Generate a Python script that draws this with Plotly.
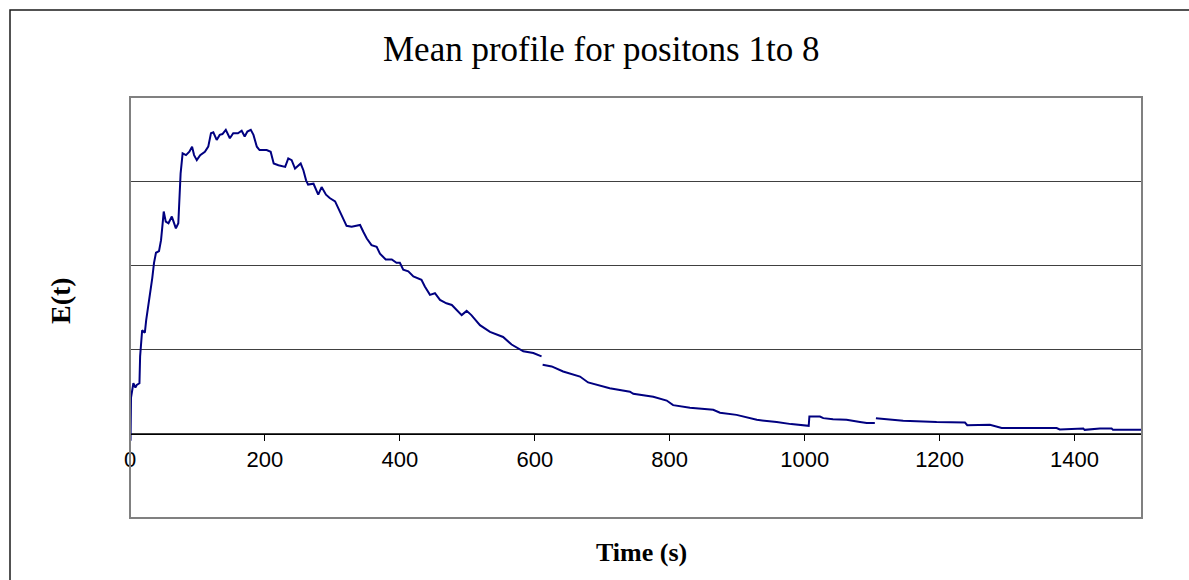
import plotly.graph_objects as go

# ---- data ----
time_s = [0, 0.8, 1.5, 5, 8, 10, 14, 15, 18, 22, 24, 27, 30, 33, 35.6, 38.5, 43, 46, 48.4, 50, 53,
          57, 62, 65, 68, 71.6, 73, 75, 78, 83, 88, 92, 95, 99, 104, 111, 116, 120, 123.5, 128.5,
          133, 137, 142, 148, 153, 160, 165.5, 170, 174, 179, 183, 188, 192, 197, 202.6, 208.5,
          213, 220, 230, 234.6, 239.6, 244.6, 249.5, 253, 257, 261, 264, 272, 279, 284, 290.5,
          296, 304, 309, 315, 321, 328.5, 335, 341, 345.8, 351, 358, 365.6, 370.5, 379, 388, 395,
          400, 405, 412.5, 420, 432, 437, 444.6, 452, 459.5, 469, 477, 491.6, 499, 506, 518.7,
          533.6, 553, 565.6, 583, 597.8, 610, 610.8, 611.6, 625, 642, 667, 679, 694, 711, 741, 746,
          775.6, 795.5, 805, 830, 864.5, 874.5, 899, 929, 958.5, 980, 1006, 1007, 1022.6, 1027.6,
          1042, 1062, 1082, 1092, 1104, 1104.8, 1105.6, 1126, 1146, 1195.6, 1237.6, 1241, 1274.6,
          1292, 1373.5, 1378, 1400.6, 1413, 1415, 1437.6, 1455, 1457, 1505]
e_t = [-0.07, -0.07, 0.43, 0.60, 0.55, 0.58, 0.60, 0.92, 1.23, 1.20, 1.35, 1.51, 1.67, 1.85, 2.03,
       2.15, 2.17, 2.30, 2.50, 2.64, 2.52, 2.50, 2.58, 2.52, 2.44, 2.50, 2.78, 3.09, 3.33, 3.31,
       3.35, 3.41, 3.31, 3.25, 3.31, 3.35, 3.41, 3.57, 3.58, 3.49, 3.55, 3.56, 3.61, 3.51, 3.57,
       3.57, 3.60, 3.53, 3.59, 3.61, 3.55, 3.41, 3.37, 3.37, 3.37, 3.35, 3.21, 3.19, 3.17, 3.27,
       3.25, 3.15, 3.19, 3.21, 3.13, 3.01, 2.96, 2.97, 2.84, 2.93, 2.84, 2.80, 2.76, 2.68, 2.58,
       2.47, 2.46, 2.47, 2.48, 2.40, 2.32, 2.24, 2.22, 2.14, 2.07, 2.07, 2.03, 2.03, 1.95, 1.93,
       1.87, 1.83, 1.75, 1.65, 1.67, 1.59, 1.55, 1.53, 1.41, 1.46, 1.41, 1.29, 1.21, 1.15, 1.06,
       0.98, 0.96, 0.92, None, 0.82, 0.80, 0.74, 0.68, 0.61, 0.58, 0.54, 0.50, 0.475, 0.44, 0.395,
       0.34, 0.31, 0.285, 0.25, 0.225, 0.166, 0.139, 0.115, 0.095, 0.205, 0.205, 0.186, 0.174,
       0.166, 0.139, 0.127, 0.127, None, 0.186, 0.174, 0.154, 0.139, 0.134, 0.103, 0.107, 0.068,
       0.068, 0.051, 0.063, 0.063, 0.047, 0.063, 0.063, 0.047, 0.047]

x_ticks = [0, 200, 400, 600, 800, 1000, 1200, 1400]
title_text = "Mean profile for positons 1to 8"
x_title = "Time (s)"
y_title = "E(t)"

# ---- layout geometry (pixels) ----
W, H = 1189, 580
L, R, T, B = 130, 1142, 97, 518
pw, ph = R - L, B - T


def px(xp):
    return (xp - L) / pw


def py(yp):
    return (B - yp) / ph


fig = go.Figure()
fig.add_trace(go.Scatter(x=time_s, y=e_t, mode="lines", connectgaps=False,
                         line=dict(color="#000080", width=2), hoverinfo="skip"))

fig.update_layout(
    width=W, height=H, autosize=False,
    margin=dict(l=L, r=W - R, t=T, b=H - B, pad=0),
    paper_bgcolor="white", plot_bgcolor="white",
    showlegend=False,
    xaxis=dict(range=[0, 1500], tickmode="array", tickvals=x_ticks,
               ticktext=[str(v) for v in x_ticks],
               showgrid=False, zeroline=False, showline=True, linecolor="black",
               linewidth=1, ticks="outside", ticklen=6, tickcolor="black",
               anchor="free", position=py(434),
               tickfont=dict(family="Liberation Sans, Arial", size=22, color="black")),
    yaxis=dict(range=[-1, 4], dtick=1, showgrid=True, gridcolor="#404040", gridwidth=1,
               zeroline=False, showticklabels=False, ticks="", showline=False),
    shapes=[
        dict(type="rect", xref="paper", yref="paper", x0=0, x1=1, y0=0, y1=1,
             line=dict(color="#808080", width=2), layer="above"),
        dict(type="rect", xref="paper", yref="paper", x0=px(10), x1=px(1260),
             y0=py(660), y1=py(10), line=dict(color="#1a1a1a", width=1.5)),
    ],
    annotations=[
        dict(text=title_text, xref="paper", yref="paper", x=px(601), y=py(49),
             xanchor="center", yanchor="middle", showarrow=False,
             font=dict(family="Liberation Serif, Times New Roman", size=35, color="black")),
        dict(text="<b>" + x_title + "</b>", xref="paper", yref="paper", x=px(641), y=py(552),
             xanchor="center", yanchor="middle", showarrow=False,
             font=dict(family="Liberation Serif, Times New Roman", size=26, color="black")),
        dict(text="<b>" + y_title + "</b>", xref="paper", yref="paper", x=px(60), y=py(301),
             xanchor="center", yanchor="middle", showarrow=False, textangle=-90,
             font=dict(family="Liberation Serif, Times New Roman", size=28, color="black")),
    ],
)

fig.write_html("out.html")
